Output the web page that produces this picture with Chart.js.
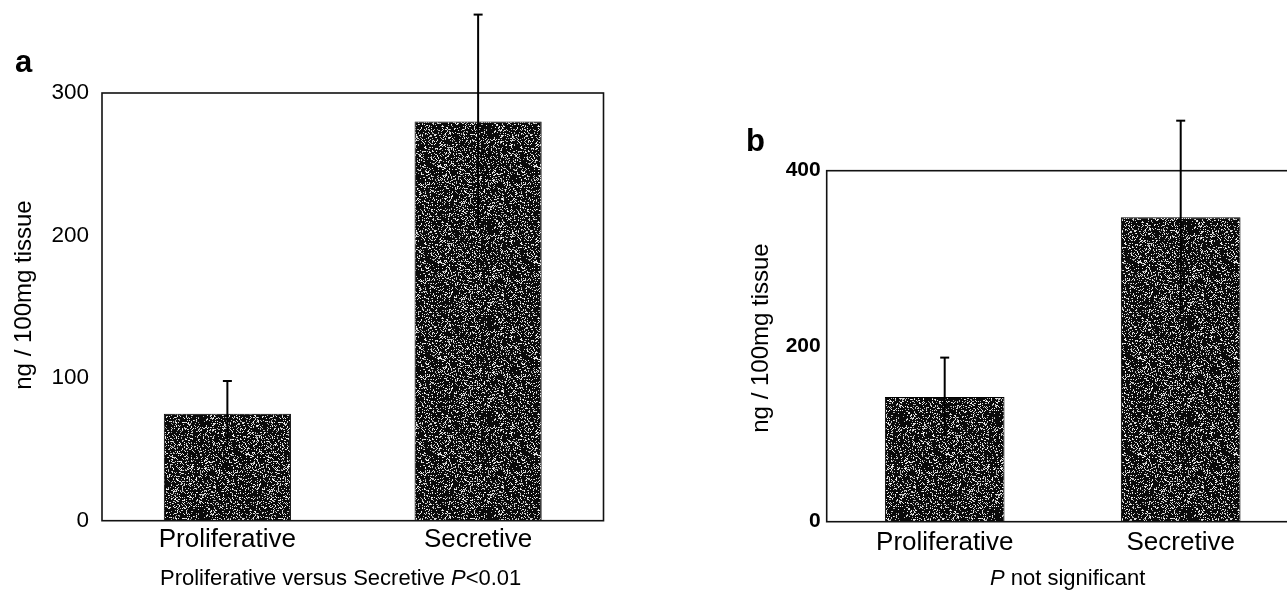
<!DOCTYPE html>
<html><head><meta charset="utf-8">
<script src="https://cdn.jsdelivr.net/npm/chart.js@4.4.1/dist/chart.umd.min.js"></script>
<style>
html,body{margin:0;padding:0;background:#fff;width:1287px;height:594px;overflow:hidden;position:relative;}
#wa{position:absolute;left:0;top:0;width:640px;height:594px;}
#wb{position:absolute;left:700px;top:0;width:620px;height:594px;}
</style></head><body>
<div id="wa"><canvas id="ca"></canvas></div>
<div id="wb"><canvas id="cb"></canvas></div>
<script>
const categories = ['Proliferative', 'Secretive'];
const valuesA = [75, 280];
const errorsA = [23, 75];
const ticksA = [0, 100, 200, 300];
const valuesB = [142, 347];
const errorsB = [45, 110];
const ticksB = [0, 200, 400];
const yTitle = 'ng / 100mg tissue';
const noteA = ['Proliferative versus Secretive ', 'P', '<0.01'];
const noteB = ['', 'P', ' not significant'];
const panelLetters = ['a', 'b'];

const FONT = '"Liberation Sans", Arial, Helvetica, sans-serif';

// deterministic stipple texture for bars
function makePattern() {
  const c = document.createElement('canvas');
  c.width = 96; c.height = 96;
  const g = c.getContext('2d');
  g.fillStyle = '#0a0a0a';
  g.fillRect(0, 0, 96, 96);
  let s = 123456789;
  function rnd() { s = (s * 1103515245 + 12345) & 0x7fffffff; return s / 0x7fffffff; }
  for (let yy = 0; yy < 96; yy++) {
    for (let xx = 0; xx < 96; xx++) {
      const r = rnd();
      if (r < 0.22) {
        const v = 160 + Math.floor(rnd() * 95);
        g.fillStyle = 'rgb(' + v + ',' + v + ',' + v + ')';
        g.fillRect(xx, yy, 1, 1);
      }
    }
  }
  return g.createPattern(c, 'repeat');
}
const pattern = makePattern();

function drawNote(ctx, parts, x, y, size) {
  ctx.textBaseline = 'alphabetic';
  ctx.textAlign = 'left';
  let cx = x;
  parts.forEach((t, i) => {
    if (!t) return;
    ctx.font = (i === 1 ? 'italic ' : '') + size + 'px ' + FONT;
    ctx.fillText(t, cx, y);
    cx += ctx.measureText(t).width;
  });
}

function makeDeco(cfg) {
  return {
    id: 'deco',
    afterDatasetsDraw(chart) {
      const ctx = chart.ctx, ca = chart.chartArea, y = chart.scales.y;
      ctx.save();
      ctx.strokeStyle = '#111';
      ctx.lineWidth = 1.6;
      ctx.strokeRect(ca.left, ca.top, ca.right - ca.left, ca.bottom - ca.top);
      const meta = chart.getDatasetMeta(0);
      cfg.values.forEach((v, i) => {
        const px = meta.data[i].x;
        const yTop = y.getPixelForValue(v + cfg.errors[i]);
        const yLow = y.getPixelForValue(v - cfg.errors[i]);
        ctx.strokeStyle = '#000';
        ctx.lineWidth = 2;
        ctx.beginPath(); ctx.moveTo(px, yLow); ctx.lineTo(px, yTop); ctx.stroke();
        ctx.beginPath(); ctx.moveTo(px - 4.5, yTop); ctx.lineTo(px + 4.5, yTop); ctx.stroke();
      });
      ctx.restore();
    },
    afterDraw(chart) {
      const ctx = chart.ctx;
      ctx.save();
      ctx.fillStyle = '#000';
      ctx.font = 'bold 31px ' + FONT;
      ctx.textAlign = 'left';
      ctx.textBaseline = 'alphabetic';
      ctx.fillText(cfg.letter, cfg.letterX, cfg.letterY);
      ctx.save();
      ctx.translate(cfg.titleX, cfg.titleY);
      ctx.rotate(-Math.PI / 2);
      ctx.font = '24px ' + FONT;
      ctx.textAlign = 'center';
      ctx.textBaseline = 'middle';
      ctx.fillText(yTitle, 0, 0);
      ctx.restore();
      drawNote(ctx, cfg.note, cfg.noteX, cfg.noteY, 22);
      ctx.restore();
    }
  };
}

function makeChart(id, values, errors, ticks, max, cfg) {
  return new Chart(document.getElementById(id), {
    type: 'bar',
    data: {
      labels: categories,
      datasets: [{
        data: values,
        backgroundColor: pattern,
        borderColor: '#000',
        borderWidth: 1,
        categoryPercentage: 1,
        barPercentage: 0.507
      }]
    },
    options: {
      responsive: true,
      maintainAspectRatio: false,
      animation: false,
      layout: { padding: cfg.padding },
      plugins: { legend: { display: false }, tooltip: { enabled: false } },
      scales: {
        x: {
          grid: { display: false, drawTicks: false },
          border: { display: false },
          ticks: { color: '#000', font: { family: FONT, size: 26 }, padding: cfg.xPad, maxRotation: 0 },
          afterFit: s => { s.height = cfg.xHeight; }
        },
        y: {
          min: 0, max: max,
          grid: { display: false, drawTicks: false },
          border: { display: false },
          ticks: { color: '#000', font: { family: FONT, size: cfg.tickSize, weight: cfg.tickWeight }, padding: cfg.yPad },
          afterBuildTicks: s => { s.ticks = ticks.map(v => ({ value: v })); },
          afterFit: s => { s.width = cfg.yWidth; }
        }
      }
    },
    plugins: [makeDeco(Object.assign({ values, errors }, cfg))]
  });
}

makeChart('ca', valuesA, errorsA, ticksA, 300, {
  padding: { top: 93, right: 36.5, bottom: 0, left: 0 },
  xHeight: 73.3, yWidth: 102, xPad: 4, yPad: 13, tickWeight: 'normal', tickSize: 22.5,
  letter: panelLetters[0], letterX: 15, letterY: 72,
  titleX: 24, titleY: 295,
  note: noteA, noteX: 160, noteY: 585
});

makeChart('cb', valuesB, errorsB, ticksB, 400, {
  padding: { top: 170.7, right: 21.3, bottom: 0, left: 0 },
  xHeight: 72.3, yWidth: 126.7, xPad: 6, yPad: 6, tickWeight: 'bold', tickSize: 21,
  letter: panelLetters[1], letterX: 46, letterY: 151,
  titleX: 61, titleY: 338,
  note: noteB, noteX: 290, noteY: 585
});
</script>
</body></html>
